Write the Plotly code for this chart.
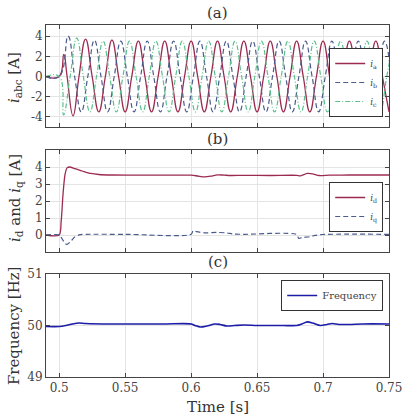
import plotly.graph_objects as go

# ---------------- data ----------------
ia_t = [0.49, 0.5, 0.5035, 0.506, 0.5105, 0.515, 0.52, 0.525, 0.53, 0.535, 0.54, 0.545, 0.55,
        0.555, 0.56, 0.565, 0.57, 0.575, 0.58, 0.585, 0.59, 0.595, 0.60, 0.605, 0.61, 0.615,
        0.62, 0.625, 0.63, 0.635, 0.64, 0.645, 0.65, 0.655, 0.66, 0.665, 0.67, 0.675, 0.68,
        0.685, 0.69, 0.695, 0.70, 0.705, 0.71, 0.715, 0.72, 0.725, 0.73, 0.735, 0.74, 0.745, 0.75]
ia_v = [0, 0, 2.2, 0, -3.9, 0, 3.7, 0, -3.5, 0, 3.6, 0, -3.5,
        0, 3.5, 0, -3.5, 0, 3.5, 0, -3.5, 0, 3.5, 0, -3.5, 0,
        3.5, 0, -3.5, 0, 3.5, 0, -3.5, 0, 3.5, 0, -3.5, 0, 3.5,
        0, -3.5, 0, 3.5, 0, -3.5, 0, 3.5, 0, -3.5, 0, 3.5, 0, -3.5]

ib_t = [0.49, 0.5, 0.5067, 0.5117, 0.5167, 0.5217, 0.5267, 0.5317, 0.5367, 0.5417, 0.5467,
        0.5517, 0.5567, 0.5617, 0.5667, 0.5717, 0.5767, 0.5817, 0.5867, 0.5917, 0.5967,
        0.6017, 0.6067, 0.6117, 0.6167, 0.6217, 0.6267, 0.6317, 0.6367, 0.6417, 0.6467,
        0.6517, 0.6567, 0.6617, 0.6667, 0.6717, 0.6767, 0.6817, 0.6867, 0.6917, 0.6967,
        0.7017, 0.7067, 0.7117, 0.7167, 0.7217, 0.7267, 0.7317, 0.7367, 0.7417, 0.7467, 0.7517]
ib_v = [0, 0, 4.0, 0, -3.5, 0, 3.6, 0, -3.5, 0, 3.5,
        0, -3.5, 0, 3.5, 0, -3.5, 0, 3.5, 0, -3.5,
        0, 3.5, 0, -3.5, 0, 3.5, 0, -3.5, 0, 3.5,
        0, -3.5, 0, 3.5, 0, -3.5, 0, 3.5, 0, -3.5,
        0, 3.5, 0, -3.5, 0, 3.5, 0, -3.5, 0, 3.5, 0]

ic_t = [0.49, 0.5, 0.5033, 0.5083, 0.5133, 0.5183, 0.5233, 0.5283, 0.5333, 0.5383, 0.5433,
        0.5483, 0.5533, 0.5583, 0.5633, 0.5683, 0.5733, 0.5783, 0.5833, 0.5883, 0.5933,
        0.5983, 0.6033, 0.6083, 0.6133, 0.6183, 0.6233, 0.6283, 0.6333, 0.6383, 0.6433,
        0.6483, 0.6533, 0.6583, 0.6633, 0.6683, 0.6733, 0.6783, 0.6833, 0.6883, 0.6933,
        0.6983, 0.7033, 0.7083, 0.7133, 0.7183, 0.7233, 0.7283, 0.7333, 0.7383, 0.7433,
        0.7483, 0.7533]
ic_v = [0, 0, -3.8, 0, 3.8, 0, -3.5, 0, 3.5, 0, -3.5,
        0, 3.5, 0, -3.5, 0, 3.5, 0, -3.5, 0, 3.5,
        0, -3.5, 0, 3.5, 0, -3.5, 0, 3.5, 0, -3.5,
        0, 3.5, 0, -3.5, 0, 3.5, 0, -3.5, 0, 3.5,
        0, -3.5, 0, 3.5, 0, -3.5, 0, 3.5, 0, -3.5,
        0, 3.5]

id_t = [0.49, 0.5, 0.5015, 0.503, 0.5045, 0.506, 0.508, 0.512, 0.518, 0.524, 0.53, 0.54,
        0.56, 0.58, 0.60, 0.605, 0.61, 0.615, 0.62, 0.625, 0.63, 0.64, 0.66, 0.68, 0.683,
        0.688, 0.692, 0.697, 0.705, 0.72, 0.75]
id_v = [0, 0, 0.8, 2.5, 3.6, 3.95, 4.0, 3.9, 3.75, 3.62, 3.56, 3.53,
        3.52, 3.52, 3.52, 3.47, 3.42, 3.46, 3.54, 3.52, 3.5, 3.51, 3.5, 3.51, 3.48,
        3.62, 3.6, 3.5, 3.52, 3.53, 3.53]

iq_t = [0.49, 0.5, 0.502, 0.5045, 0.506, 0.509, 0.512, 0.516, 0.52, 0.55, 0.60, 0.6015,
        0.604, 0.61, 0.62, 0.627, 0.632, 0.64, 0.68, 0.6815, 0.684, 0.69, 0.694, 0.70, 0.75]
iq_v = [0, 0, -0.2, -0.5, -0.55, -0.35, -0.1, 0.02, 0.04, 0.04, 0.04, 0.25,
        0.2, 0.13, 0.15, 0.12, 0.06, 0.04, 0.03, -0.2, -0.15, -0.1, -0.02, 0.03, 0.04]

f_t = [0.49, 0.5, 0.505, 0.51, 0.515, 0.52, 0.54, 0.56, 0.58, 0.60, 0.603, 0.607, 0.612,
       0.618, 0.622, 0.627, 0.633, 0.64, 0.65, 0.66, 0.67, 0.68, 0.684, 0.688, 0.692,
       0.698, 0.703, 0.707, 0.712, 0.72, 0.73, 0.75]
f_v = [49.98, 49.98, 50.0, 50.03, 50.05, 50.04, 50.03, 50.03, 50.03, 50.03, 50.0, 49.97, 49.99,
       50.03, 50.02, 49.99, 50.0, 50.01, 50.0, 50.0, 50.0, 50.0, 50.03, 50.07, 50.05,
       50.0, 50.02, 50.04, 50.02, 50.02, 50.03, 50.03]

x_ticks = [0.5, 0.55, 0.6, 0.65, 0.7, 0.75]
x_ticktext = ["0.5", "0.55", "0.6", "0.65", "0.7", "0.75"]
ya_ticks = [4, 2, 0, -2, -4]
ya_text = ["4", "2", "0", "-2", "-4"]
yb_ticks = [0, 1, 2, 3, 4]
yc_ticks = [49, 50, 51]

# ---------------- styling ----------------
FONT = "DejaVu Serif"
C_A = "#9c2b50"
C_B = "#4b5b8c"
C_C = "#5cc08e"
C_F = "#1c1ca8"
AXC = "#444444"
GRID = "#e4e4e4"
TXT = "#444444"

fig = go.Figure()
fig.add_trace(go.Scatter(x=ia_t, y=ia_v, mode="lines", name="<i>i</i><sub>a</sub>",
                         line=dict(color=C_A, width=1.3, shape="spline", smoothing=1.3),
                         xaxis="x", yaxis="y", legend="legend"))
fig.add_trace(go.Scatter(x=ib_t, y=ib_v, mode="lines", name="<i>i</i><sub>b</sub>",
                         line=dict(color=C_B, width=1.2, dash="5px,3px", shape="spline", smoothing=1.3),
                         xaxis="x", yaxis="y", legend="legend"))
fig.add_trace(go.Scatter(x=ic_t, y=ic_v, mode="lines", name="<i>i</i><sub>c</sub>",
                         line=dict(color=C_C, width=1.2, dash="5px,2px,1px,2px", shape="spline", smoothing=1.3),
                         xaxis="x", yaxis="y", legend="legend"))
fig.add_trace(go.Scatter(x=id_t, y=id_v, mode="lines", name="<i>i</i><sub>d</sub>",
                         line=dict(color=C_A, width=1.3, shape="spline", smoothing=0.8),
                         xaxis="x2", yaxis="y2", legend="legend2"))
fig.add_trace(go.Scatter(x=iq_t, y=iq_v, mode="lines", name="<i>i</i><sub>q</sub>",
                         line=dict(color=C_B, width=1.2, dash="5px,3px", shape="spline", smoothing=0.8),
                         xaxis="x2", yaxis="y2", legend="legend2"))
fig.add_trace(go.Scatter(x=f_t, y=f_v, mode="lines", name="Frequency",
                         line=dict(color=C_F, width=1.6, shape="spline", smoothing=0.8),
                         xaxis="x3", yaxis="y3", legend="legend3"))

L, R, T, B = 46, 13, 25, 42
H = 419 - T - B
W = 414 - L - R


def py(p):
    return (419 - B - p) / H


def px(p):
    return (p - L) / W


common_x = dict(range=[0.49, 0.75], tickvals=x_ticks, ticktext=x_ticktext, showgrid=True,
                gridcolor=GRID, gridwidth=1, ticks="inside", ticklen=4, tickcolor=AXC,
                showline=True, linecolor=AXC, linewidth=1, mirror="ticks", zeroline=False,
                ticklabeloverflow="allow",
                tickfont=dict(family=FONT, size=12, color=TXT))
common_y = dict(showgrid=True, gridcolor=GRID, gridwidth=1, ticks="inside", ticklen=4,
                tickcolor=AXC, showline=True, linecolor=AXC, linewidth=1, mirror="ticks",
                zeroline=False, tickfont=dict(family=FONT, size=12, color=TXT))

legend_common = dict(bgcolor="white", bordercolor="#333", borderwidth=1,
                     font=dict(family=FONT, size=9, color=TXT), xanchor="right",
                     yanchor="top", itemwidth=30, tracegroupgap=0, valign="middle")

fig.update_layout(
    width=414, height=419,
    margin=dict(l=L, r=R, t=T, b=B),
    paper_bgcolor="white", plot_bgcolor="white",
    font=dict(family=FONT, color="#333"),
    xaxis=dict(common_x, domain=[0, 1], anchor="y", showticklabels=False),
    yaxis=dict(common_y, domain=[py(127), 1.0], range=[-5, 5.1], tickvals=ya_ticks,
               ticktext=ya_text, anchor="x"),
    xaxis2=dict(common_x, domain=[0, 1], anchor="y2", showticklabels=False),
    yaxis2=dict(common_y, domain=[py(252), py(150)], range=[-1, 5], tickvals=yb_ticks, anchor="x2"),
    xaxis3=dict(common_x, domain=[0, 1], anchor="y3", showticklabels=True),
    yaxis3=dict(common_y, domain=[0, py(274)], range=[49, 51], tickvals=yc_ticks, anchor="x3"),
    legend=dict(legend_common, x=px(395), y=py(48)),
    legend2=dict(legend_common, x=px(395), y=py(182)),
    legend3=dict(legend_common, x=px(395), y=py(280), font=dict(family=FONT, size=10, color=TXT)),
    showlegend=True,
)

ann_font = dict(family=FONT, size=15, color="#333")
annotations = [
    dict(text="(a)", x=0.5, y=py(13), xref="paper", yref="paper", showarrow=False,
         font=ann_font, xanchor="center", yanchor="middle"),
    dict(text="(b)", x=0.5, y=py(139), xref="paper", yref="paper", showarrow=False,
         font=ann_font, xanchor="center", yanchor="middle"),
    dict(text="(c)", x=0.5, y=py(262), xref="paper", yref="paper", showarrow=False,
         font=ann_font, xanchor="center", yanchor="middle"),
    dict(text="Time [s]", x=0.5, y=py(407), xref="paper", yref="paper", showarrow=False,
         font=ann_font, xanchor="center", yanchor="middle"),
    dict(text="<i>i</i><sub>abc</sub> [A]", x=px(14), y=py(78), xref="paper", yref="paper",
         showarrow=False, font=ann_font, textangle=-90, xanchor="center", yanchor="middle"),
    dict(text="<i>i</i><sub>d</sub> and <i>i</i><sub>q</sub> [A]", x=px(14), y=py(198),
         xref="paper", yref="paper", showarrow=False, font=ann_font, textangle=-90,
         xanchor="center", yanchor="middle"),
    dict(text="Frequency [Hz]", x=px(13), y=py(326), xref="paper", yref="paper",
         showarrow=False, font=ann_font, textangle=-90, xanchor="center", yanchor="middle"),
]
fig.update_layout(annotations=annotations)

fig.write_html("out.html")
